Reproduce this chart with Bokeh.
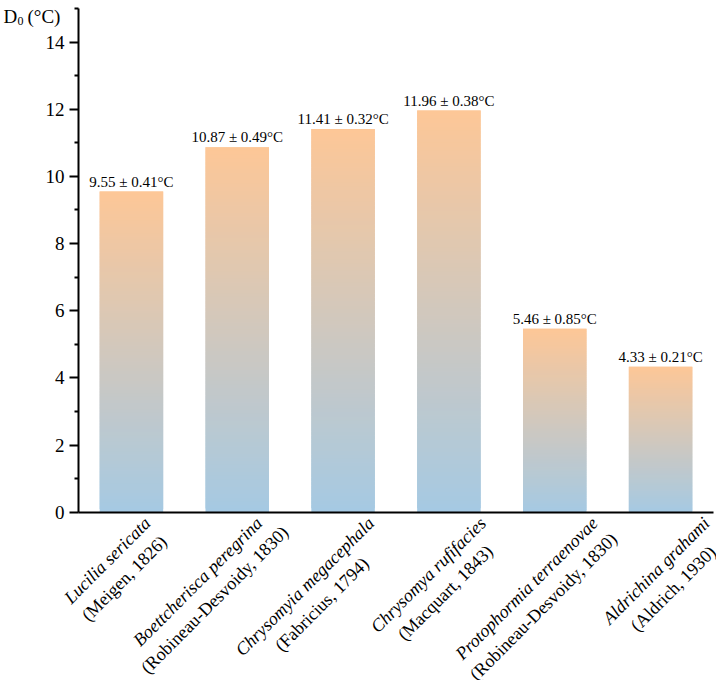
import math
from bokeh.plotting import figure
from bokeh.models import ColumnDataSource, LabelSet, Label, Range1d, FixedTicker
from bokeh.embed import file_html
from bokeh.resources import INLINE

species = ["Lucilia sericata", "Boettcherisca peregrina", "Chrysomyia megacephala",
           "Chrysomya rufifacies", "Protophormia terraenovae", "Aldrichina grahami"]
authors = ["(Meigen, 1826)", "(Robineau-Desvoidy, 1830)", "(Fabricius, 1794)",
           "(Macquart, 1843)", "(Robineau-Desvoidy, 1830)", "(Aldrich, 1930)"]
values = [9.55, 10.87, 11.41, 11.96, 5.46, 4.33]
errors = [0.41, 0.49, 0.32, 0.38, 0.85, 0.21]
y_ticks = [0, 2, 4, 6, 8, 10, 12, 14]
y_minor = [1, 3, 5, 7, 9, 11, 13, 15]

FONT = "Liberation Serif"
top_rgb = (253, 199, 151)
bot_rgb = (165, 201, 227)

W, H = 716, 680
AX_X, AX_Y, TOP, RIGHT = 78, 511.7, 8, 3
xscale = (W - AX_X - RIGHT) / 6.0
yscale = (AX_Y - TOP) / 15.0

p = figure(width=W, height=H, output_backend="svg", toolbar_location=None,
           x_range=Range1d(-AX_X / xscale, 6 + RIGHT / xscale),
           y_range=Range1d(-(H - AX_Y) / yscale, 15 + TOP / yscale),
           min_border_left=0, min_border_right=0, min_border_top=0, min_border_bottom=0)
p.outline_line_color = None
p.grid.visible = False
p.background_fill_color = "white"
p.border_fill_color = "white"

# gradient bars built from overlapping slices
N = 100
l, r, b, t, c = [], [], [], [], []
for i, v in enumerate(values):
    for k in range(N):
        f = (k + 0.5) / N
        col = tuple(int(round(bot_rgb[j] + (top_rgb[j] - bot_rgb[j]) * f)) for j in range(3))
        l.append(i + 0.5 - 0.3)
        r.append(i + 0.5 + 0.3)
        b.append(v * k / N)
        t.append(min(v, v * (k + 2) / N))
        c.append("#%02x%02x%02x" % col)
p.quad(left=l, right=r, bottom=b, top=t, fill_color=c, line_color=None)

# axes drawn at the data origin
yax = p.yaxis[0]
yax.fixed_location = 0
yax.bounds = (0, 15)
yax.ticker = FixedTicker(ticks=y_ticks, minor_ticks=y_minor)
yax.axis_line_width = 2
yax.major_tick_line_width = 2
yax.minor_tick_line_width = 2
yax.major_tick_out = 9
yax.major_tick_in = 0
yax.minor_tick_out = 4
yax.minor_tick_in = 0
yax.major_label_text_font = FONT
yax.major_label_text_font_size = "19px"
yax.major_label_text_color = "black"
yax.major_label_standoff = 5
yax.axis_line_color = "black"
yax.major_tick_line_color = "black"
yax.minor_tick_line_color = "black"

xax = p.xaxis[0]
xax.fixed_location = 0
xax.bounds = (0, 6)
xax.axis_line_width = 2
xax.axis_line_color = "black"
xax.major_tick_line_color = None
xax.minor_tick_line_color = None
xax.major_label_text_font_size = "0px"

# value labels
val_text = ["%.2f \u00b1 %.2f\u00b0C" % (v, e) for v, e in zip(values, errors)]
vsrc = ColumnDataSource(dict(x=[i + 0.5 for i in range(6)], y=values, text=val_text))
p.add_layout(LabelSet(x="x", y="y", text="text", source=vsrc, text_align="center",
                      text_baseline="bottom", y_offset=2, text_font=FONT,
                      text_font_size="15px", text_color="black"))

# approximate Times metrics (per em) to centre the second line under the first
REG = {" ": .25, "(": .333, ")": .333, ",": .25, "-": .333, "A": .722, "C": .667,
       "D": .722, "F": .556, "M": .889, "R": .667}
ITA = {" ": .25, "A": .611, "B": .611, "C": .667, "L": .556, "P": .611, "m": .722,
       "r": .389, "f": .278, "y": .444, "a": .5, "v": .444}
BASE = {"a": .444, "b": .5, "c": .444, "d": .5, "e": .444, "f": .333, "g": .5, "h": .5,
        "i": .278, "l": .278, "m": .778, "n": .5, "o": .5, "p": .5, "q": .5, "r": .333,
        "s": .389, "t": .278, "u": .5, "v": .5, "y": .5}


def width(s, size, italic=False):
    tot = 0.0
    for ch in s:
        if italic and ch in ITA:
            tot += ITA[ch]
        elif ch in REG:
            tot += REG[ch]
        elif ch.isdigit():
            tot += 0.5
        else:
            tot += BASE.get(ch, 0.5)
    return tot * size


LSIZE = 18
ang = math.pi / 4
cs = math.cos(ang)
xs, a1x, a1y, a2x, a2y = [], [], [], [], []
for i in range(6):
    w1 = width(species[i], LSIZE, italic=True)
    ex, ey = 12 + 6 * i + 4, 4 + 4          # right-middle of first line (px, down)
    c1x, c1y = ex - w1 / 2 * cs, ey + w1 / 2 * cs
    c2x, c2y = c1x + 17, c1y + 18
    xs.append(i + 0.5)
    a1x.append(ex)
    a1y.append(-ey)
    a2x.append(c2x)
    a2y.append(-c2y)
s1 = ColumnDataSource(dict(x=xs, y=[0] * 6, text=species, xo=a1x, yo=a1y))
s2 = ColumnDataSource(dict(x=xs, y=[0] * 6, text=authors, xo=a2x, yo=a2y))
p.add_layout(LabelSet(x="x", y="y", text="text", source=s1, x_offset="xo", y_offset="yo",
                      angle=ang, text_align="right", text_baseline="middle",
                      text_font=FONT, text_font_style="italic",
                      text_font_size="%dpx" % LSIZE, text_color="black"))
p.add_layout(LabelSet(x="x", y="y", text="text", source=s2, x_offset="xo", y_offset="yo",
                      angle=ang, text_align="center", text_baseline="middle",
                      text_font=FONT, text_font_size="%dpx" % LSIZE, text_color="black"))

# y axis title at top-left
p.add_layout(Label(x=0, y=15, x_offset=-75, y_offset=-8, text="D", text_font=FONT,
                   text_font_size="19px", text_baseline="alphabetic", text_color="black"))
p.add_layout(Label(x=0, y=15, x_offset=-61, y_offset=-12, text="0", text_font=FONT,
                   text_font_size="12px", text_baseline="alphabetic", text_color="black"))
p.add_layout(Label(x=0, y=15, x_offset=-51, y_offset=-8, text="(\u00b0C)", text_font=FONT,
                   text_font_size="19px", text_baseline="alphabetic", text_color="black"))

open("out.html", "w").write(file_html(p, INLINE))
